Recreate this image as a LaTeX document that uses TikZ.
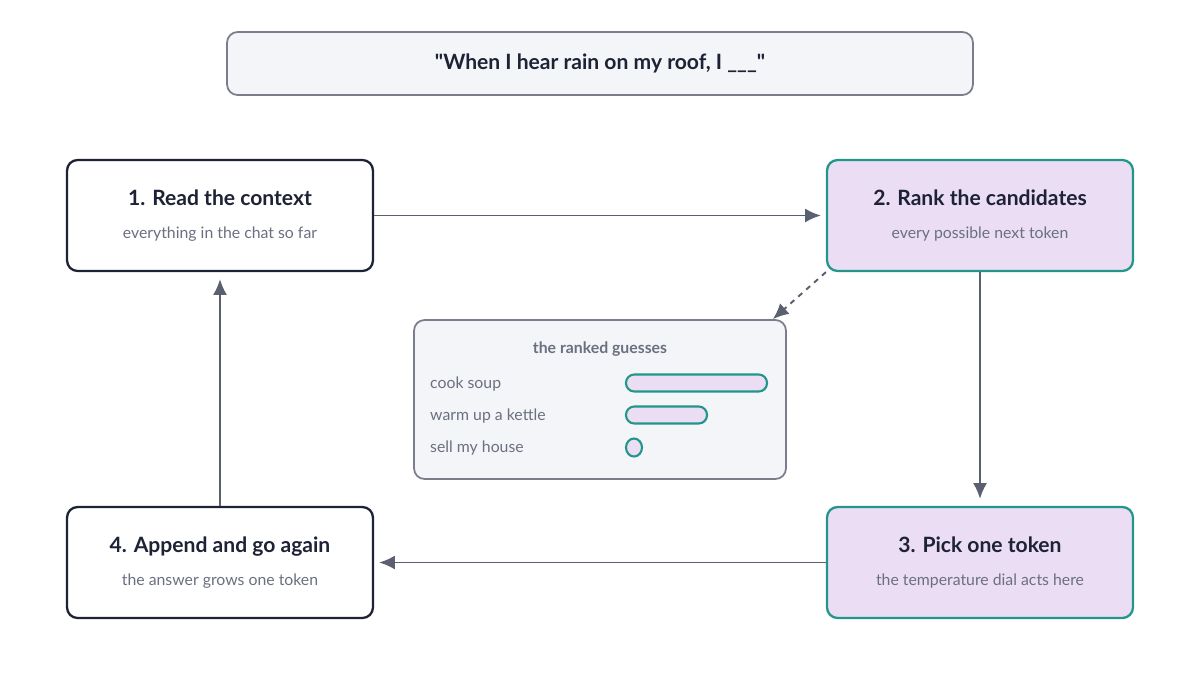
\documentclass[tikz,border=0pt]{standalone}
\usepackage{fontspec}
\setmainfont{Lato}[Ligatures=TeXOff]
\usetikzlibrary{calc,positioning,arrows.meta}
\definecolor{ink}{HTML}{1E2235}
\definecolor{muted}{HTML}{6B7080}
\definecolor{teal}{HTML}{23968A}
\definecolor{lilac}{HTML}{EBDDF4}
\definecolor{paper}{HTML}{F3F5F9}
\definecolor{edge}{HTML}{7A7D8C}
\definecolor{arrowc}{HTML}{5A6070}
\tikzset{
  stage/.style={draw=ink,line width=1.3pt,rounded corners=6pt,fill=white,minimum width=6.12cm,minimum height=2.22cm,align=center},
  hot stage/.style={stage,draw=teal,fill=lilac},
  flow/.style={arrowc,line width=1.1pt,-{Latex[length=9pt,width=8pt]}},
  bar/.style={draw=teal,line width=1.2pt,fill=lilac,rounded corners=4.7pt},
  guess/.style={anchor=west,text=muted,font=\small},
}
\newcommand{\stagetext}[2]{{\bfseries\color{ink}\large #1}\\[7pt]{\color{muted}\small #2}}
\begin{document}
\begin{tikzpicture}[x=0.02cm,y=-0.02cm]
  \useasboundingbox (0,0) rectangle (1200,694);
  \node[draw=edge,line width=1pt,rounded corners=6pt,fill=paper,minimum width=14.92cm,minimum height=1.26cm,font=\bfseries\large,text=ink] (prompt) at (600,63.5) {"When I hear rain on my roof, I \_\_\_"};

  \node[stage] (read) at (220,215.5) {\stagetext{1. Read the context}{everything in the chat so far}};
  \node[hot stage] (rank) at (980,215.5) {\stagetext{2. Rank the candidates}{every possible next token}};
  \node[hot stage] (pick) at (980,562.5) {\stagetext{3. Pick one token}{the temperature dial acts here}};
  \node[stage] (append) at (220,562.5) {\stagetext{4. Append and go again}{the answer grows one token}};

  \node[draw=edge,line width=1pt,rounded corners=6pt,fill=paper,minimum width=7.44cm,minimum height=3.18cm] (guesses) at (600,399.5) {};
  \node[font=\bfseries\small,text=muted] (head) at (600,349) {the ranked guesses};
  \node[guess] (g1) at (424,384) {cook soup};
  \node[guess] (g2) at (424,416) {warm up a kettle};
  \node[guess] (g3) at (424,448) {sell my house};
  \draw[bar] (626,374.5) rectangle (767,391.5);
  \draw[bar] (626,406.5) rectangle (707,423.5);
  \draw[draw=teal,line width=1.2pt,fill=lilac] (634,447.5) ellipse [x radius=8,y radius=9];

  \draw[flow] (read.east) -- ($(rank.west)+(-5,0)$);
  \draw[flow] (rank.south) -- ($(pick.north)+(0,-7)$);
  \draw[flow] (pick.west) -- ($(append.east)+(5,0)$);
  \draw[flow] (append.north) -- ($(read.south)+(0,7)$);
  \draw[flow,dashed] (rank.south west) -- ($(guesses.north east)+(-14,0)$);
\end{tikzpicture}
\end{document}
